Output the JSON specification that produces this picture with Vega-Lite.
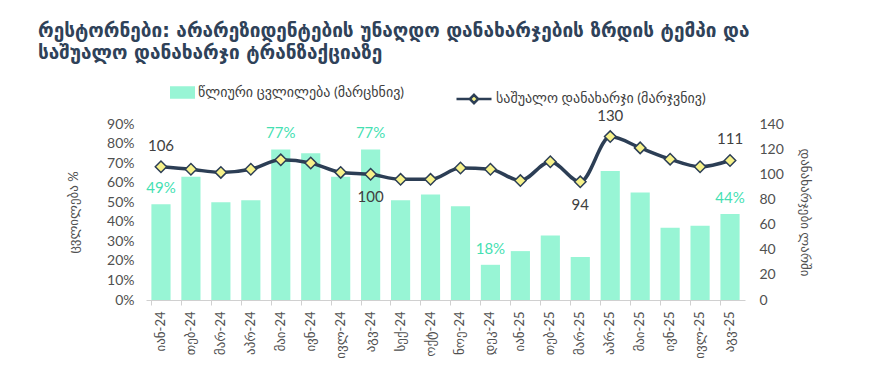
{
  "$schema": "https://vega.github.io/schema/vega-lite/v6.json",
  "width": 599,
  "height": 176,
  "autosize": "none",
  "padding": {"left": 146, "top": 124, "right": 140, "bottom": 82},
  "background": "white",
  "config": {
    "view": {"stroke": null},
    "font": "Lato, DejaVu Sans",
    "axis": {"labelColor": "#505050", "titleColor": "#505050", "grid": false}
  },
  "title": {
    "text": ["რესტორნები: არარეზიდენტების უნაღდო დანახარჯების ზრდის ტემპი და", "საშუალო დანახარჯი ტრანზაქციაზე"],
    "anchor": "start",
    "frame": "group",
    "dx": -108,
    "offset": 17,
    "fontSize": 19,
    "fontWeight": "bold",
    "font": "DejaVu Sans",
    "color": "#2f4259",
    "lineHeight": 22
  },
  "data": {
    "values": [
      {"month": "იან-24", "change": 0.49, "spend": 106},
      {"month": "თებ-24", "change": 0.63, "spend": 104},
      {"month": "მარ-24", "change": 0.50, "spend": 101.5},
      {"month": "აპრ-24", "change": 0.51, "spend": 104},
      {"month": "მაი-24", "change": 0.77, "spend": 111.5},
      {"month": "ივნ-24", "change": 0.75, "spend": 109},
      {"month": "ივლ-24", "change": 0.63, "spend": 101.5},
      {"month": "აგვ-24", "change": 0.77, "spend": 100},
      {"month": "სექ-24", "change": 0.51, "spend": 96},
      {"month": "ოქტ-24", "change": 0.54, "spend": 96},
      {"month": "ნოე-24", "change": 0.48, "spend": 105},
      {"month": "დეკ-24", "change": 0.18, "spend": 104},
      {"month": "იან-25", "change": 0.25, "spend": 95},
      {"month": "თებ-25", "change": 0.33, "spend": 110},
      {"month": "მარ-25", "change": 0.22, "spend": 94},
      {"month": "აპრ-25", "change": 0.66, "spend": 130},
      {"month": "მაი-25", "change": 0.55, "spend": 121},
      {"month": "ივნ-25", "change": 0.37, "spend": 112},
      {"month": "ივლ-25", "change": 0.38, "spend": 106},
      {"month": "აგვ-25", "change": 0.44, "spend": 111}
    ]
  },
  "encoding": {
    "x": {
      "field": "month",
      "type": "nominal",
      "sort": null,
      "scale": {"paddingInner": 0.36, "paddingOuter": 0.18},
      "axis": {
        "title": null,
        "labelAngle": -90,
        "labelFontSize": 13,
        "labelPadding": 6,
        "bandPosition": 0,
        "domainColor": "#d0d0d0",
        "tickColor": "#d0d0d0",
        "tickSize": 5
      }
    }
  },
  "layer": [
    {
      "encoding": {
        "y": {
          "field": "change",
          "type": "quantitative",
          "scale": {"domain": [0, 0.9]},
          "axis": {
            "title": "ცვლილება %",
            "titleFontSize": 13,
            "titleFontWeight": "normal",
            "titlePadding": 26,
            "format": ".0%",
            "values": [0, 0.1, 0.2, 0.3, 0.4, 0.5, 0.6, 0.7, 0.8, 0.9],
            "labelOverlap": false,
            "labelFontSize": 14,
            "domain": false,
            "ticks": false,
            "labelPadding": 12
          }
        }
      },
      "layer": [
        {
          "mark": {"type": "bar"},
          "encoding": {
            "fill": {
              "datum": "წლიური ცვლილება (მარცხნივ)",
              "scale": {"range": ["#98f5d5"]},
              "legend": {
                "orient": "none",
                "legendX": 24,
                "legendY": -44,
                "title": null,
                "symbolType": "M-1,-0.5H1V0.5H-1Z",
                "symbolSize": 625,
                "symbolStrokeWidth": 0,
                "labelFontSize": 14,
                "labelColor": "#404040",
                "labelLimit": 400,
                "labelOffset": 3
              }
            }
          }
        },
        {
          "transform": [{"filter": "indexof(['იან-24','მაი-24','აგვ-24','დეკ-24','აგვ-25'], datum.month) >= 0"}],
          "mark": {"type": "text", "dy": -16, "fontSize": 15, "color": "#45dfb2", "baseline": "middle"},
          "encoding": {
            "text": {"field": "change", "type": "quantitative", "format": ".0%"}
          }
        }
      ]
    },
    {
      "encoding": {
        "y": {
          "field": "spend",
          "type": "quantitative",
          "scale": {"domain": [0, 140]},
          "axis": {
            "orient": "right",
            "title": "დანახარჯები ლარში",
            "titleAngle": 90,
            "titleFontSize": 13,
            "titleFontWeight": "normal",
            "titlePadding": 14,
            "values": [0, 20, 40, 60, 80, 100, 120, 140],
            "labelOverlap": false,
            "labelFontSize": 14,
            "domain": false,
            "ticks": false,
            "labelPadding": 14
          }
        }
      },
      "layer": [
        {
          "mark": {"type": "line", "interpolate": "monotone", "strokeWidth": 3.5},
          "encoding": {
            "stroke": {
              "datum": "საშუალო დანახარჯი (მარჯვნივ)",
              "scale": {"range": ["#2c3e55"]},
              "legend": {
                "orient": "none",
                "legendX": 309,
                "legendY": -44,
                "title": null,
                "symbolType": "M-1,0H-0.24M0.24,0H1M0,-0.24L0.24,0L0,0.24L-0.24,0Z",
                "symbolSize": 1225,
                "symbolStrokeWidth": 2.5,
                "symbolFillColor": "#f7f28a",
                "labelFontSize": 14,
                "labelColor": "#404040",
                "labelLimit": 400,
                "labelOffset": 3
              }
            }
          }
        },
        {
          "mark": {"type": "point", "shape": "diamond", "size": 130, "filled": true, "fill": "#f7f28a", "stroke": "#2c3e55", "strokeWidth": 1.5, "opacity": 1}
        },
        {
          "transform": [{"filter": "indexof(['იან-24','აპრ-25','აგვ-25'], datum.month) >= 0"}],
          "mark": {"type": "text", "dy": -21, "fontSize": 15, "color": "#404040", "baseline": "middle"},
          "encoding": {
            "text": {"field": "spend", "type": "quantitative", "format": ".0f"}
          }
        },
        {
          "transform": [{"filter": "indexof(['აგვ-24','მარ-25'], datum.month) >= 0"}],
          "mark": {"type": "text", "dy": 23, "fontSize": 15, "color": "#404040", "baseline": "middle"},
          "encoding": {
            "text": {"field": "spend", "type": "quantitative", "format": ".0f"}
          }
        }
      ]
    }
  ],
  "resolve": {"scale": {"y": "independent"}}
}
